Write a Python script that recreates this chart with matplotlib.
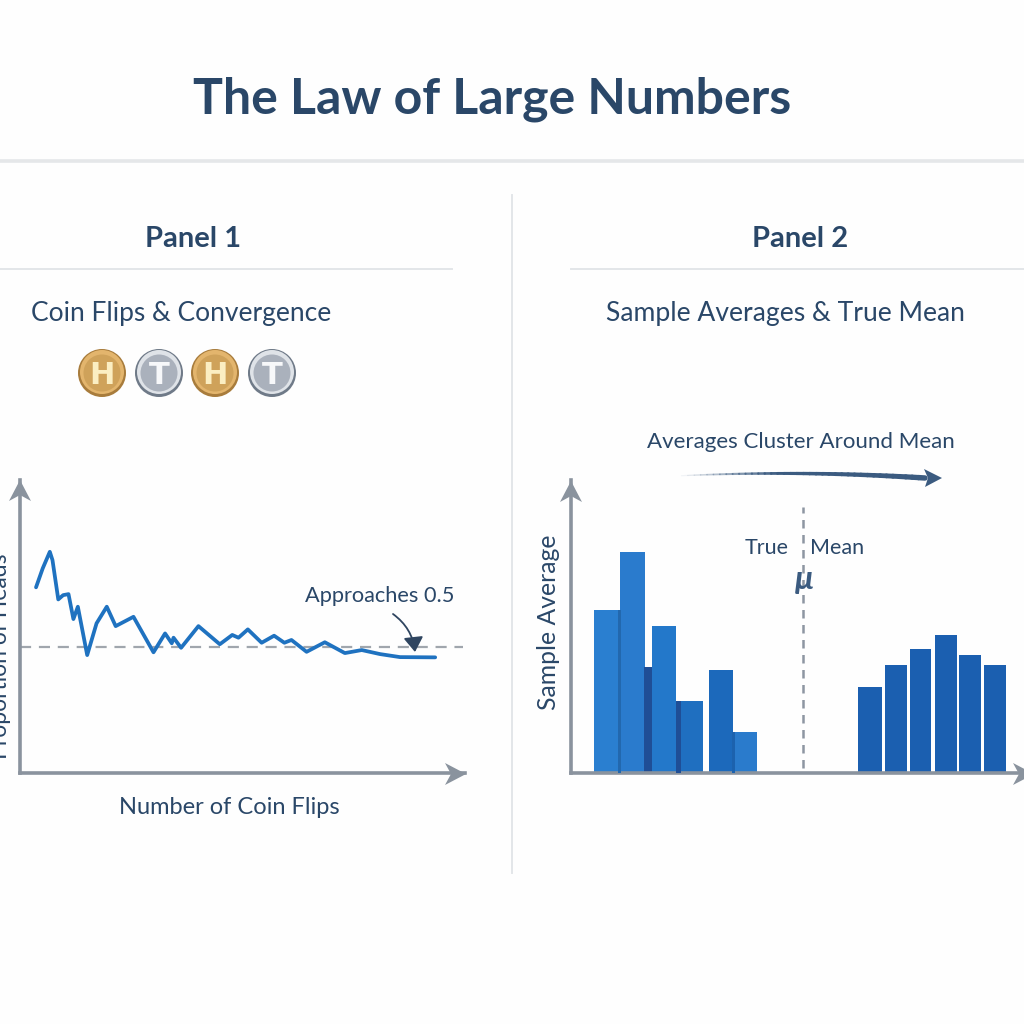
import matplotlib
matplotlib.use('Agg')
import matplotlib.pyplot as plt
import numpy as np
from matplotlib.collections import LineCollection
from matplotlib.patches import Circle, FancyArrowPatch, Polygon

plt.rcParams['font.family'] = ['Lato', 'DejaVu Sans']

# panel 1: running proportion of heads
flips = [3.6, 5.1, 6.7, 7.3, 8.6, 9.7, 10.9, 12.0, 13.0, 15.1, 17.2, 19.5, 21.5, 25.5, 30.0,
         32.6, 34.1, 34.5, 36.2, 40.1, 44.9, 47.7, 49.1, 51.2, 54.3, 57.1, 59.4, 61.0, 64.4,
         68.5, 73.0, 76.8, 80.9, 85.4, 93.3]
proportion = [.737, .812, .878, .845, .689, .706, .710, .611, .660, .468, .594, .660, .583, .620,
              .479, .554, .515, .537, .497, .583, .511, .548, .537, .570, .517, .545, .517, .528,
              .481, .519, .476, .488, .472, .460, .459]
expected = 0.5
coin_faces = ['H', 'T', 'H', 'T']

# panel 2: sample averages, left group then right group
left_edges = [5.2, 10.9, 16.4, 18.2, 23.6, 31.0, 36.5]
left_widths = [5.8, 5.8, 1.9, 5.4, 6.1, 5.5, 5.3]
left_heights = [.647, .876, .421, .582, .287, .409, .161]
left_colors = ['#2a7fd0', '#2a7bcd', '#1f4e96', '#2378ca', '#1f6fc0', '#1c69bb', '#2a7bcc']
right_edges = [64.6, 70.6, 76.1, 81.8, 87.3, 92.8]
right_widths = [5.2, 5.0, 4.9, 5.0, 4.9, 4.9]
right_heights = [.340, .429, .492, .548, .468, .429]
true_mean = 52.2

NAVY = '#2a4768'
GREY = '#8a939e'
BLUE = '#1f72c0'

fig = plt.figure(figsize=(10.24, 10.24), dpi=100, facecolor='#fefefe')


def panel_axes(left, right, top, bottom, xmax):
    ax = fig.add_axes([left / 1024, 1 - bottom / 1024, (right - left) / 1024, (bottom - top) / 1024])
    ax.set_xlim(0, xmax)
    ax.set_ylim(0, 1.163)
    ax.patch.set_alpha(0)
    ax.set_xticks([])
    ax.set_yticks([])
    for s in ['top', 'right']:
        ax.spines[s].set_visible(False)
    for s in ['left', 'bottom']:
        ax.spines[s].set_color(GREY)
        ax.spines[s].set_linewidth(2.6)
    return ax


ax1 = panel_axes(20, 465, 480, 773, 100)
ax1.axhline(expected, color='#a0a6ad', lw=1.6, dashes=(5, 3.5), xmin=0.0, xmax=0.995, zorder=1)
ax1.plot(flips, proportion, color=BLUE, lw=2.7, solid_joinstyle='round', solid_capstyle='round', zorder=2)

ax2 = panel_axes(571, 1024, 480, 773, 101.8)
ax2.bar(left_edges, left_heights, left_widths, align='edge', color=left_colors, zorder=2)
ax2.bar(right_edges, right_heights, right_widths, align='edge', color='#1b5fb0', zorder=2)
ax2.bar(left_edges[4], left_heights[4], 1.1, align='edge', color='#1f4e96', zorder=3)
ax2.bar(left_edges[1] - .3, left_heights[0], .7, align='edge', color='#2268ae', zorder=3)
ax2.bar(left_edges[6] - .3, left_heights[6], .6, align='edge', color='#1c62ae', zorder=3)
ax2.plot([true_mean, true_mean], [.02, 1.055], color='#8d96a2', lw=1.8, dashes=(3.4, 2.6), zorder=1)

# page layer in pixel coordinates: rules, coins, arrows, text
pg = fig.add_axes([0, 0, 1, 1])
pg.set_xlim(0, 1024)
pg.set_ylim(1024, 0)
pg.axis('off')
pg.patch.set_alpha(0)

pg.plot([0, 1024], [161, 161], color='#e5e7e9', lw=2.6)
pg.plot([512, 512], [195, 873], color='#e3e6e9', lw=1.4)
pg.plot([0, 452], [269, 269], color='#e3e6e9', lw=1.4)
pg.plot([571, 1024], [269, 269], color='#e3e6e9', lw=1.4)


def head(tx, ty, dx, dy):
    nx, ny = -dy, dx
    pts = [(tx, ty), (tx - 21 * dx + 11 * nx, ty - 21 * dy + 11 * ny),
           (tx - 15 * dx, ty - 15 * dy), (tx - 21 * dx - 11 * nx, ty - 21 * dy - 11 * ny)]
    pg.add_patch(Polygon(pts, closed=True, color=GREY, lw=0))


head(20, 480, 0, -1)
head(466, 774, 1, 0)
head(571, 481, 0, -1)
head(1034, 774, 1, 0)

coin_x = [102, 159, 215, 272]
for cx, face in zip(coin_x, coin_faces):
    if face == 'H':
        rim, body, mid, ink = '#a87c3c', '#e3b56d', '#cfa25a', '#fbeec2'
    else:
        rim, body, mid, ink = '#6f7a88', '#dfe3e8', '#aab1bc', '#f7f8fa'
    pg.add_patch(Circle((cx, 373), 24, color=rim, lw=0))
    pg.add_patch(Circle((cx, 372), 22, color=body, lw=0))
    pg.add_patch(Circle((cx, 373), 18.5, color=mid, lw=0))
    pg.text(cx, 373, face, color=ink, fontsize=22, fontweight='black', ha='center', va='center_baseline',
            family=['DejaVu Sans'])

# tapered arrow above panel 2
t = np.linspace(0, 1, 40)
ax_x = 675 + (925 - 675) * t
ax_y = (1 - t) ** 2 * 476 + 2 * t * (1 - t) * 470 + t ** 2 * 478
segs = np.stack([np.column_stack([ax_x[:-1], ax_y[:-1]]), np.column_stack([ax_x[1:], ax_y[1:]])], axis=1)
cols = np.zeros((39, 4))
cols[:, :3] = matplotlib.colors.to_rgb('#3b5b80')
cols[:, 3] = np.clip(t[:-1] * 2.5, 0, 1)
pg.add_collection(LineCollection(segs, colors=cols, linewidths=0.8 + 3.2 * t[:-1], capstyle='round'))
pg.add_patch(Polygon([(942, 478), (924, 469), (928, 478), (925, 487)], closed=True, color='#3b5b80', lw=0))

pg.add_patch(FancyArrowPatch((393, 614), (415, 652), connectionstyle='arc3,rad=-0.22',
                             arrowstyle='-|>,head_length=9,head_width=6', color='#2f4560', lw=1.3,
                             shrinkA=0, shrinkB=0))


def label(x, y, s, size, weight='normal', **kw):
    pg.text(x, y + 2, s, color=NAVY, fontsize=size, fontweight=weight, ha='center', va='center', **kw)


label(492, 97, 'The Law of Large Numbers', 36, 'bold')
label(193, 237, 'Panel 1', 21, 'bold')
label(800, 237, 'Panel 2', 21, 'bold')
label(181, 312, 'Coin Flips & Convergence', 19)
label(785, 312, 'Sample Averages & True Mean', 19.1)
label(801, 440, 'Averages Cluster Around Mean', 16)
label(767, 546, 'True', 15.5)
label(837, 546, 'Mean', 15.5)
pg.text(804, 580, 'μ', color='#3b5b80', fontsize=24, fontweight='bold', style='italic', ha='center', va='center')
label(380, 594, 'Approaches 0.5', 15.7)
label(229, 805, 'Number of Coin Flips', 17)
label(548, 620, 'Sample Average', 17.8, rotation=90)
label(1, 654, 'Proportion of Heads', 16.5, rotation=90, clip_on=False)

fig.savefig('out.png', dpi=100, facecolor=fig.get_facecolor())
